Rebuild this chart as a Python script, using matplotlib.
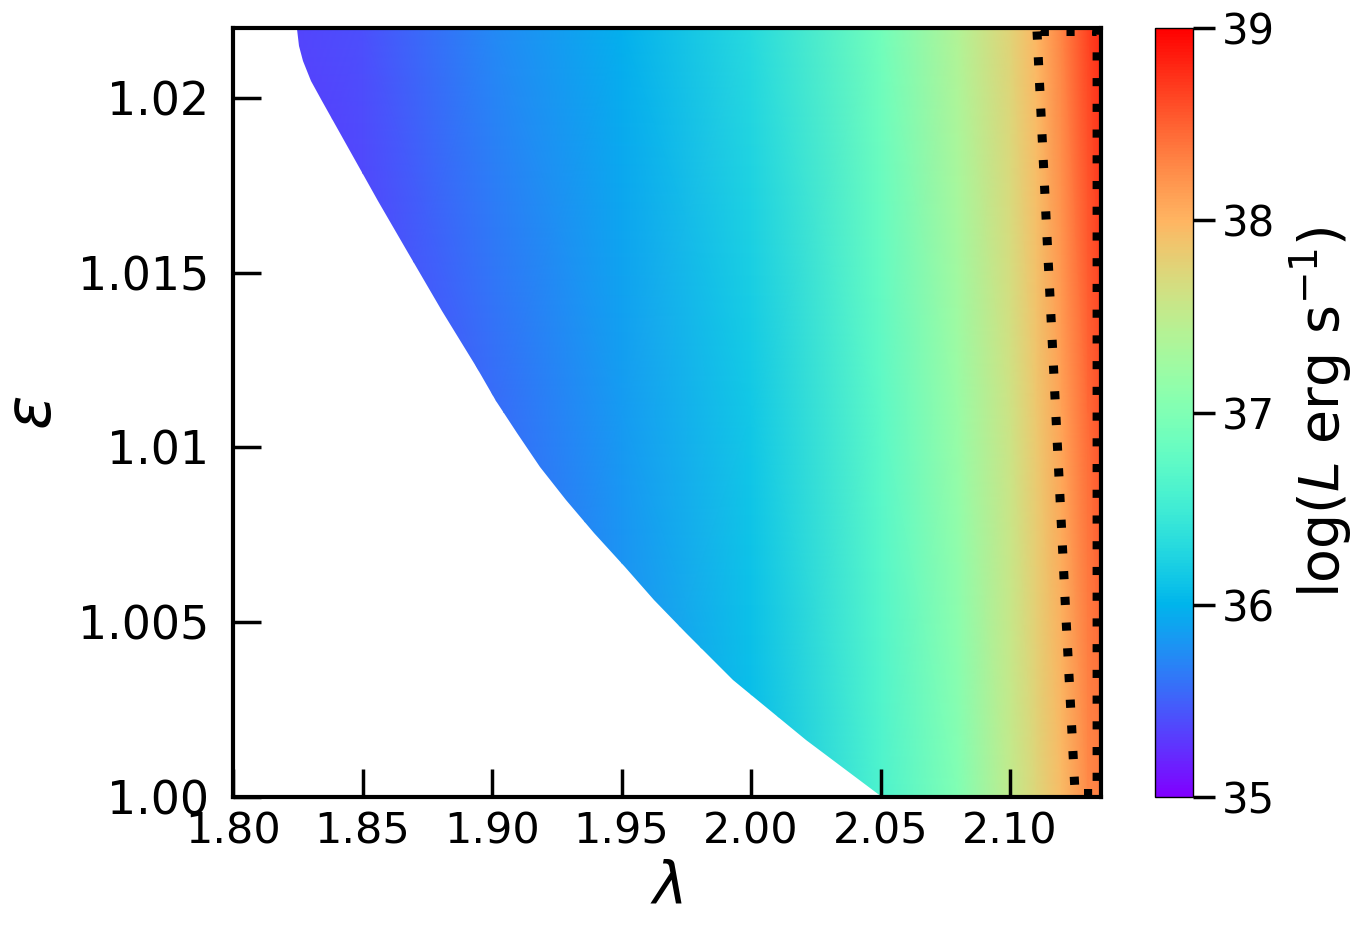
import numpy as np
import matplotlib
matplotlib.use('Agg')
import matplotlib.pyplot as plt
from matplotlib.patches import Polygon

lam_nodes = [1.80, 1.85, 1.90, 1.95, 2.00, 2.05, 2.08, 2.10, 2.11, 2.12, 2.13, 2.136]
eps_rows = [1.000, 1.011, 1.022]
logL_bottom = [35.00, 35.20, 35.45, 35.72, 36.05, 36.60, 37.00, 37.50, 37.72, 37.95, 38.25, 38.35]
logL_middle = [35.15, 35.32, 35.55, 35.84, 36.15, 36.72, 37.20, 37.60, 37.85, 38.12, 38.45, 38.60]
logL_top = [35.30, 35.42, 35.72, 35.98, 36.30, 36.90, 37.40, 37.75, 37.97, 38.30, 38.65, 38.80]

# left edge of the allowed region
edge_eps = [1.021971, 1.021486, 1.021057, 1.020486, 1.019914, 1.018486, 1.017057, 1.015629,
            1.013914, 1.012286, 1.011343, 1.010400, 1.009429, 1.008486, 1.007543, 1.006571,
            1.005629, 1.004686, 1.003343, 1.001629, 1.000000]
edge_lam = [1.82471, 1.82548, 1.82703, 1.83012, 1.83436, 1.84517, 1.85598, 1.86718,
            1.88069, 1.89402, 1.90154, 1.90965, 1.91853, 1.92857, 1.93938, 1.95135,
            1.96255, 1.97490, 1.99305, 2.02124, 2.05046]

# dotted contour near the right edge
cont_lam = [2.1104, 2.1140, 2.1177, 2.1214, 2.1251, 2.1336, 2.1336, 2.1104]
cont_eps = [1.0219, 1.0164, 1.0109, 1.0054, 1.0001, 1.0001, 1.0219, 1.0219]

cbar_ticks = [35, 36, 37, 38, 39]

fig = plt.figure(figsize=(13.59, 9.36), dpi=100)
ax = fig.add_axes([233 / 1359, 1 - 797 / 936, 868 / 1359, 769 / 936])
cax = fig.add_axes([1155 / 1359, 1 - 797 / 936, 38 / 1359, 769 / 936])

LAM, EPS = np.meshgrid(lam_nodes, eps_rows)
Z = np.array([logL_bottom, logL_middle, logL_top])
mesh = ax.pcolormesh(LAM, EPS, Z, cmap='rainbow', vmin=35, vmax=39, shading='gouraud')

verts = list(zip(edge_lam, edge_eps)) + [(2.2, 1.0), (2.2, 1.03), (edge_lam[0], 1.03)]
clip = Polygon(verts, closed=True, transform=ax.transData)
mesh.set_clip_path(clip)

ax.plot(cont_lam, cont_eps, color='k', lw=6.5, linestyle=(0, (0.9, 1.95)))

ax.set_xlim(1.80, 2.1351)
ax.set_ylim(1.0, 1.022)
ax.set_xticks([1.80, 1.85, 1.90, 1.95, 2.00, 2.05, 2.10])
ax.set_xticklabels(['1.80', '1.85', '1.90', '1.95', '2.00', '2.05', '2.10'])
ax.set_yticks([1.00, 1.005, 1.01, 1.015, 1.02])
ax.set_yticklabels(['1.00', '1.005', '1.01', '1.015', '1.02'])
ax.tick_params(axis='both', direction='in', length=20, width=2.5)
ax.tick_params(axis='x', labelsize=31, pad=10)
ax.tick_params(axis='y', labelsize=33, pad=17)
for sp in ax.spines.values():
    sp.set_linewidth(3)
ax.set_xlabel(r'$\lambda$', fontsize=42, labelpad=4)
ax.set_ylabel(r'$\epsilon$', fontsize=46, labelpad=10)

cb = fig.colorbar(mesh, cax=cax, ticks=cbar_ticks)
cb.outline.set_linewidth(1)
cb.ax.tick_params(direction='out', length=16, width=2.5, labelsize=30, pad=5)
cb.set_label(r'log($L$ erg s$^{-1}$)', fontsize=40, labelpad=8)

fig.savefig('out.png', dpi=100)
